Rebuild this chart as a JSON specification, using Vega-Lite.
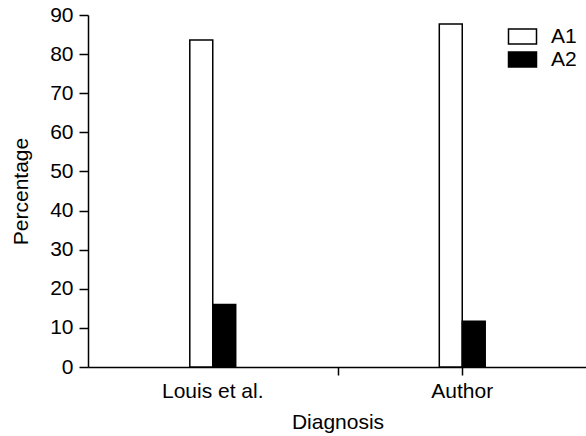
{
  "$schema": "https://vega.github.io/schema/vega-lite/v6.json",
  "width": 499,
  "height": 352,
  "autosize": {"type": "none"},
  "padding": {"left": 88, "top": 15, "right": 0, "bottom": 69},
  "background": "white",
  "config": {
    "view": {"stroke": null},
    "font": "Liberation Sans",
    "axis": {"domainColor": "black", "tickColor": "black", "labelColor": "black", "titleColor": "black", "grid": false, "labelFont": "Liberation Sans", "titleFont": "Liberation Sans", "titleFontWeight": "normal", "labelFontSize": 21, "titleFontSize": 21, "domainWidth": 1.5, "tickWidth": 1.5, "tickSize": 8},
    "legend": {"labelFont": "Liberation Sans", "labelFontSize": 21, "labelColor": "black"}
  },
  "data": {
    "values": [
      {"Diagnosis": "Louis et al.", "Group": "A1", "Percentage": 83.6},
      {"Diagnosis": "Louis et al.", "Group": "A2", "Percentage": 16.0},
      {"Diagnosis": "Author", "Group": "A1", "Percentage": 87.7},
      {"Diagnosis": "Author", "Group": "A2", "Percentage": 11.7}
    ]
  },
  "resolve": {"scale": {"x": "independent"}, "axis": {"x": "independent"}},
  "layer": [
    {
      "mark": {"type": "bar", "stroke": "black", "strokeWidth": 1.5},
      "encoding": {
        "x": {
          "field": "Diagnosis", "type": "nominal", "sort": ["Louis et al.", "Author"],
          "scale": {"paddingInner": 0.816, "paddingOuter": 0.408},
          "axis": {"orient": "bottom", "labelAngle": 0, "ticks": false, "labelPadding": 13, "titlePadding": 10}
        },
        "xOffset": {
          "field": "Group", "type": "nominal",
          "scale": {"paddingInner": 0, "paddingOuter": 0}
        },
        "y": {
          "field": "Percentage", "type": "quantitative",
          "scale": {"domain": [0, 90], "nice": false},
          "axis": {"values": [0, 10, 20, 30, 40, 50, 60, 70, 80, 90], "labelPadding": 6, "tickSize": 9, "titlePadding": 18}
        },
        "fill": {
          "field": "Group", "type": "nominal",
          "scale": {"domain": ["A1", "A2"], "range": ["white", "black"]},
          "legend": {
            "title": null, "orient": "none", "legendX": 424, "legendY": 11,
            "symbolType": "M-1.75,-0.94L1.75,-0.94L1.75,0.94L-1.75,0.94Z",
            "symbolSize": 256, "symbolStrokeColor": "black", "symbolStrokeWidth": 1.5,
            "symbolOpacity": 1, "labelOffset": 18, "rowPadding": 0, "padding": 0
          }
        }
      }
    },
    {
      "mark": {"type": "bar", "opacity": 0},
      "encoding": {
        "x": {
          "field": "Diagnosis", "type": "nominal", "sort": ["Louis et al.", "Author"],
          "scale": {"paddingInner": 0.816, "paddingOuter": 0.408},
          "axis": {"orient": "bottom", "values": ["Author"], "labels": false, "domain": false, "title": null, "ticks": true}
        }
      }
    },
    {
      "mark": {"type": "bar", "opacity": 0},
      "encoding": {
        "x": {
          "field": "Diagnosis", "type": "nominal", "sort": ["Louis et al.", "Author"],
          "scale": {"paddingInner": 0, "paddingOuter": 0},
          "axis": {"orient": "bottom", "values": ["Author"], "tickBand": "extent", "labels": false, "domain": false, "title": null, "ticks": true}
        }
      }
    }
  ]
}
